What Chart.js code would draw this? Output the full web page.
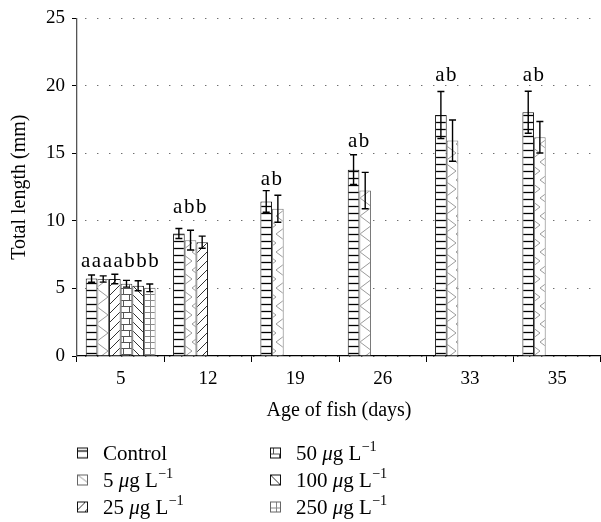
<!DOCTYPE html>
<html>
<head>
<meta charset="utf-8">
<script src="https://cdn.jsdelivr.net/npm/chart.js@4"></script>
<style>
  body { margin: 0; background: #fff; }
  #wrap { position: relative; width: 601px; height: 522px; }
  .leg { position: absolute; font: 21px "Liberation Serif", serif; color: #000; display: flex; align-items: center; white-space: nowrap; line-height: 1; transform: translateY(-50%); }
  .leg canvas { margin-right: 15px; }
  sup { font-size: 0.68em; vertical-align: 0.6em; line-height: 0; }
</style>
</head>
<body>
<div id="wrap">
  <canvas id="chart" width="601" height="522"></canvas>
</div>
<script>
// age of fish (days) on x, total length (mm) on y
const ages = ['5', '12', '19', '26', '33', '35'];
const seriesLabels = ['Control', '5 <i>μ</i>g L<sup>−1</sup>', '25 <i>μ</i>g L<sup>−1</sup>',
                      '50 <i>μ</i>g L<sup>−1</sup>', '100 <i>μ</i>g L<sup>−1</sup>', '250 <i>μ</i>g L<sup>−1</sup>'];

const control    = [5.73, 9.07, 11.45, 13.8, 17.85, 18.05];
const controlErr = [0.27, 0.37, 0.8, 1.1, 1.74, 1.56];
const conc5      = [5.7, 8.58, 10.9, 12.25, 15.95, 16.2];
const conc5Err   = [0.23, 0.73, 1.0, 1.35, 1.53, 1.17];
const conc25     = [5.7, 8.43, null, null, null, null];
const conc25Err  = [0.35, 0.45, null, null, null, null];
const conc50     = [5.35, null, null, null, null, null];
const conc50Err  = [0.25, null, null, null, null, null];
const conc100    = [5.2, null, null, null, null, null];
const conc100Err = [0.37, null, null, null, null, null];
const conc250    = [5.05, null, null, null, null, null];
const conc250Err = [0.28, null, null, null, null, null];

const sigLetters = ['aaaabbb', 'abb', 'ab', 'ab', 'ab', 'ab'];
const sigLetterY = [6.6, 10.6, 12.65, 15.5, 20.4, 20.4];

const FONT = '"Liberation Serif", serif';

// hatch fills
function makePattern(kind) {
  const c = document.createElement('canvas');
  const sizes = { hlines: [8, 7], zigzag: [12, 18], fdiag: [9, 9], brick: [12, 12], bdiag: [9, 9], grid: [6, 6] };
  const [w, h] = sizes[kind];
  c.width = w; c.height = h;
  const g = c.getContext('2d');
  g.fillStyle = '#fff';
  g.fillRect(0, 0, w, h);
  g.lineWidth = 1;
  g.beginPath();
  if (kind === 'hlines') {
    g.strokeStyle = '#000'; g.lineWidth = 1.3;
    g.moveTo(0, 3.5); g.lineTo(w, 3.5);
  } else if (kind === 'zigzag') {
    g.strokeStyle = '#9a9a9a';
    g.moveTo(0, h); g.lineTo(w, h / 2); g.lineTo(0, 0);
  } else if (kind === 'fdiag') {
    g.strokeStyle = '#333';
    g.moveTo(0, h); g.lineTo(w, 0);
    g.moveTo(-1, 1); g.lineTo(1, -1);
    g.moveTo(w - 1, h + 1); g.lineTo(w + 1, h - 1);
  } else if (kind === 'bdiag') {
    g.strokeStyle = '#333';
    g.moveTo(0, 0); g.lineTo(w, h);
    g.moveTo(w - 1, -1); g.lineTo(w + 1, 1);
    g.moveTo(-1, h - 1); g.lineTo(1, h + 1);
  } else if (kind === 'brick') {
    g.strokeStyle = '#555';
    g.moveTo(0, 0.5); g.lineTo(w, 0.5);
    g.moveTo(0, 6.5); g.lineTo(w, 6.5);
    g.moveTo(3.5, 0); g.lineTo(3.5, 6);
    g.moveTo(9.5, 6); g.lineTo(9.5, 12);
  } else if (kind === 'grid') {
    g.strokeStyle = '#888';
    g.moveTo(0, 0.5); g.lineTo(w, 0.5);
    g.moveTo(0.5, 0); g.lineTo(0.5, h);
  }
  g.stroke();
  return document.createElement('canvas').getContext('2d').createPattern(c, 'repeat');
}

const kinds = ['hlines', 'zigzag', 'fdiag', 'brick', 'bdiag', 'grid'];
const borders = ['#111', '#777', '#222', '#444', '#222', '#777'];
const values = [control, conc5, conc25, conc50, conc100, conc250];
const errors = [controlErr, conc5Err, conc25Err, conc50Err, conc100Err, conc250Err];

const errorBars = {
  id: 'errorBars',
  afterDatasetsDraw(chart) {
    const ctx = chart.ctx;
    const y = chart.scales.y;
    ctx.save();
    ctx.strokeStyle = '#000';
    ctx.lineWidth = 1.4;
    chart.data.datasets.forEach((ds, di) => {
      const meta = chart.getDatasetMeta(di);
      meta.data.forEach((bar, i) => {
        const v = ds.data[i], e = errors[di][i];
        if (v == null || e == null) return;
        const top = y.getPixelForValue(v + e), bot = y.getPixelForValue(v - e);
        ctx.beginPath();
        ctx.moveTo(bar.x, top); ctx.lineTo(bar.x, bot);
        ctx.moveTo(bar.x - 3.5, top); ctx.lineTo(bar.x + 3.5, top);
        ctx.moveTo(bar.x - 3.5, bot); ctx.lineTo(bar.x + 3.5, bot);
        ctx.stroke();
      });
    });
    ctx.restore();
  }
};

const letters = {
  id: 'letters',
  afterDatasetsDraw(chart) {
    const ctx = chart.ctx;
    const y = chart.scales.y;
    ctx.save();
    ctx.font = '21px ' + FONT;
    ctx.fillStyle = '#000';
    ctx.textAlign = 'center';
    ctx.textBaseline = 'alphabetic';
    ctx.letterSpacing = '1.5px';
    ages.forEach((a, i) => {
      let lo = Infinity, hi = -Infinity;
      chart.data.datasets.forEach((ds, di) => {
        if (ds.data[i] == null) return;
        const bar = chart.getDatasetMeta(di).data[i];
        lo = Math.min(lo, bar.x - bar.width / 2);
        hi = Math.max(hi, bar.x + bar.width / 2);
      });
      ctx.fillText(sigLetters[i], (lo + hi) / 2, y.getPixelForValue(sigLetterY[i]));
    });
    ctx.restore();
  }
};

new Chart(document.getElementById('chart'), {
  type: 'bar',
  data: {
    labels: ages,
    datasets: values.map((d, i) => ({
      data: d,
      backgroundColor: makePattern(kinds[i]),
      borderColor: borders[i],
      borderWidth: 1
    }))
  },
  options: {
    responsive: false,
    animation: false,
    events: [],
    categoryPercentage: 0.8,
    barPercentage: 1.0,
    layout: { padding: { top: 16, bottom: 96, left: 0, right: 0 } },
    plugins: { legend: { display: false }, tooltip: { enabled: false } },
    scales: {
      x: {
        afterFit(s) { s.height = 70; },
        grid: { drawOnChartArea: false, drawTicks: true, tickLength: 6, color: '#000', offset: true },
        border: { display: true, color: '#000', width: 1.3 },
        ticks: { color: '#000', font: { family: FONT, size: 19 }, padding: 6, maxRotation: 0 },
        title: { display: true, text: 'Age of fish (days)', color: '#000', font: { family: FONT, size: 20 }, padding: { top: 0, bottom: 3 } }
      },
      y: {
        min: 0, max: 25,
        afterFit(s) { s.width = 77; },
        ticks: { stepSize: 5, color: '#000', font: { family: FONT, size: 19 }, padding: 7 },
        grid: { color: '#333', lineWidth: 1, tickLength: 5, tickColor: '#000', tickBorderDash: [], drawTicks: true },
        border: { display: true, color: '#555', width: 1.3, dash: [1, 11], dashOffset: -8 },
        title: { display: true, text: 'Total length (mm)', color: '#000', font: { family: FONT, size: 20 }, padding: { top: 8, bottom: 0 } }
      }
    }
  },
  plugins: [errorBars, letters]
});

// legend in two columns, like the figure
const wrap = document.getElementById('wrap');
const legPos = [[77, 453], [77, 480], [77, 507], [270, 453], [270, 480], [270, 507]];
seriesLabels.forEach((txt, i) => {
  const div = document.createElement('div');
  div.className = 'leg';
  div.style.left = legPos[i][0] + 'px';
  div.style.top = legPos[i][1] + 'px';
  const ic = document.createElement('canvas');
  ic.width = 11; ic.height = 11;
  const g = ic.getContext('2d');
  g.fillStyle = makePattern(kinds[i]);
  g.fillRect(0, 0, 11, 11);
  g.strokeStyle = borders[i] === '#777' ? '#666' : '#111';
  g.lineWidth = 1;
  g.strokeRect(0.5, 0.5, 10, 10);
  div.appendChild(ic);
  const span = document.createElement('span');
  span.innerHTML = txt;
  div.appendChild(span);
  wrap.appendChild(div);
});
</script>
</body>
</html>
